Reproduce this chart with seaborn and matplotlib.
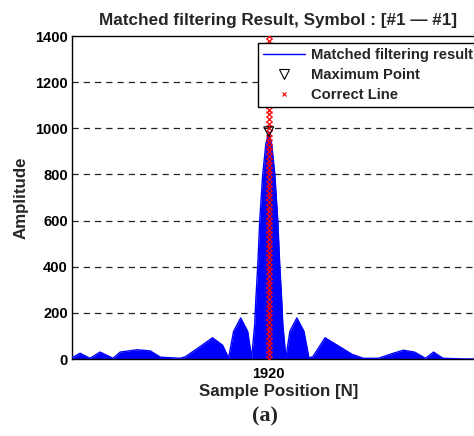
import numpy as np
import pandas as pd
import matplotlib
matplotlib.use("Agg")
import matplotlib.pyplot as plt
from matplotlib.lines import Line2D
import seaborn as sns

# Envelope of matched filtering output (sample position, amplitude)
sample_pos = [0, 78, 176, 274, 401, 470, 637, 764, 862, 1058, 1107, 1254, 1371, 1469,
              1528, 1577, 1646, 1714, 1753, 1783, 1793, 1812, 1832, 1861, 1891, 1920,
              1949, 1979, 2008, 2028, 2047, 2057, 2087, 2126, 2194, 2263, 2312,
              2351, 2469, 2587, 2734, 2842, 2989, 3136, 3234, 3342, 3450, 3528, 3620, 3840, 4000]
amplitude = [5, 25, 3, 30, 3, 30, 40, 35, 8, 3, 10, 55, 92, 60,
             5, 120, 178, 120, 5, 150, 250, 400, 600, 800, 930, 985,
             930, 800, 600, 400, 250, 150, 5, 120, 178, 120, 5,
             10, 92, 60, 20, 3, 3, 25, 38, 30, 3, 30, 3, 0, 0]

max_pos = 1920
max_val = 985
correct_pos = 1920
y_ticks = [0, 200, 400, 600, 800, 1000, 1200, 1400]
x_ticks = [1920]

sns.set_theme(style="white")
plt.rcParams['font.family'] = ['Liberation Sans', 'DejaVu Sans']
plt.rcParams['font.weight'] = 'bold'

fig = plt.figure(figsize=(4.74, 4.36), dpi=100)
ax = fig.add_axes([72/474, 77/436, 413/474, 323/436])

df = pd.DataFrame({"pos": sample_pos, "amp": amplitude})
ax.fill_between(df["pos"], 0, df["amp"], color="#0000ff", linewidth=0, zorder=2)
sns.lineplot(data=df, x="pos", y="amp", color="#0000ff", linewidth=1.0, ax=ax, zorder=3)

# correct line markers
cy = np.arange(0, 1401, 20)
sns.scatterplot(x=[correct_pos]*len(cy), y=cy, marker="x", color="red", s=18,
                linewidth=0.9, ax=ax, zorder=5, legend=False)
# maximum point
ax.scatter([max_pos], [max_val], marker="v", s=50, facecolors="none",
           edgecolors="black", linewidths=0.8, zorder=6)

ax.set_xlim(0, 4030)
ax.set_ylim(0, 1400)
ax.set_yticks(y_ticks)
ax.set_xticks(x_ticks)
ax.set_yticklabels([str(v) for v in y_ticks], fontsize=10.5, fontweight='bold')
ax.set_xticklabels([str(v) for v in x_ticks], fontsize=10.5, fontweight='bold')
ax.tick_params(direction="in", length=4, width=0.8, colors="black")
ax.tick_params(axis="y", pad=3)
ax.tick_params(axis="x", pad=6)
for y in y_ticks[1:-1]:
    ax.axhline(y, color="#222222", linestyle=(0, (5, 4)), linewidth=0.9, zorder=1)
for s in ax.spines.values():
    s.set_color("black")
    s.set_linewidth(1.0)
    s.set_visible(True)

ax.set_xlabel("Sample Position [N]", fontsize=12.2, fontweight='bold', labelpad=2)
ax.set_ylabel("Amplitude", fontsize=12.2, fontweight='bold', labelpad=5)
ax.set_title("Matched filtering Result, Symbol : [#1 \u2014 #1]", fontsize=12.3,
             fontweight='bold', pad=8)

handles = [Line2D([], [], color="#0000ff", linewidth=1.0),
           Line2D([], [], marker="v", color="black", markerfacecolor="none", linestyle="none", markersize=7, markeredgewidth=0.8),
           Line2D([], [], marker="x", color="red", linestyle="none", markersize=3, markeredgewidth=0.8)]
labels = ["Matched filtering result", "Maximum Point", "Correct Line"]
leg = ax.legend(handles, labels, loc="upper left", bbox_to_anchor=(258/474, 1 - 43/436),
                bbox_transform=fig.transFigure, frameon=True, fancybox=False, framealpha=1,
                prop={"size": 10.6, "weight": "bold"}, handlelength=2.9,
                borderpad=0.32, labelspacing=0.43, handletextpad=0.36, borderaxespad=0)
leg.get_frame().set_edgecolor("black")
leg.get_frame().set_linewidth(1.0)
leg.set_zorder(10)

fig.text(265/474, 1 - 416/436, "(a)", fontsize=16, family=["Liberation Serif", "DejaVu Serif"],
         fontweight="bold", ha="center", va="center")

fig.savefig("out.png", dpi=100, facecolor="white")
